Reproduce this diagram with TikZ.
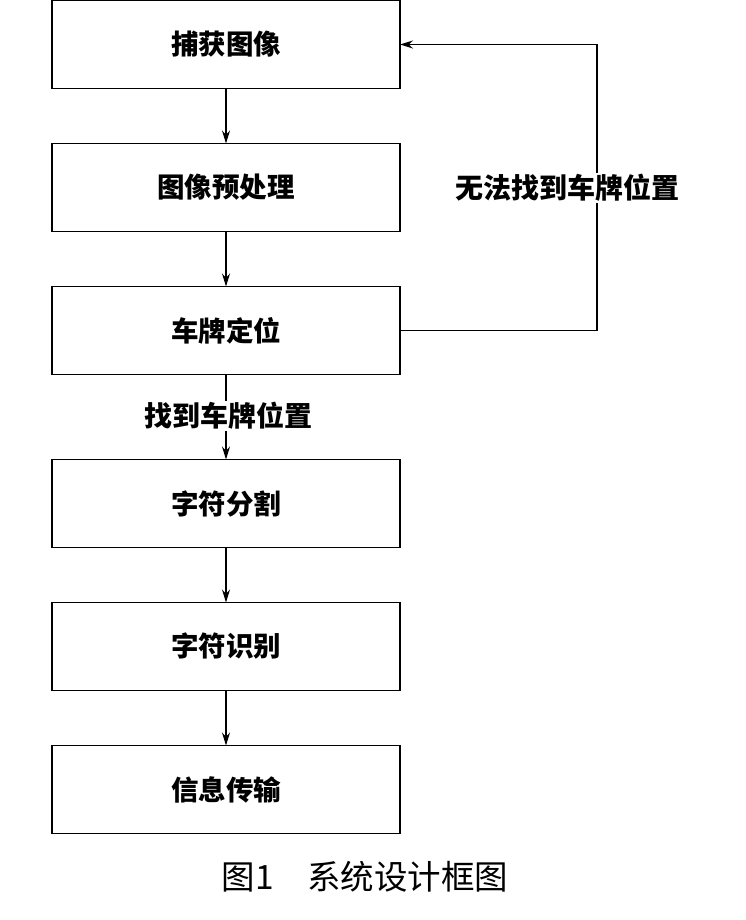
\documentclass[tikz,border=0pt]{standalone}
\usepackage{fontspec}
\setmainfont{Noto Sans CJK SC}
\usetikzlibrary{positioning,arrows.meta}
\tikzset{
  stage/.style={draw, line width=1.3pt, outer sep=0pt, minimum width=348pt, minimum height=88pt,
    font=\fontsize{27.5}{32}\selectfont\bfseries},
  flow/.style={line width=1.3pt, -{Stealth[length=13pt,width=8pt]}},
  tag/.style={fill=white, inner sep=1pt, font=\fontsize{28}{32}\selectfont\bfseries}
}
\begin{document}
\begin{tikzpicture}[x=1pt, y=-1pt, node distance=55pt]
  \useasboundingbox (0,0) rectangle (745,920);
  \node[stage] (capture) at (226,44.5) {捕获图像};
  \node[stage, below=of capture] (prep) {图像预处理};
  \node[stage, below=of prep] (locate) {车牌定位};
  \node[stage, below=85pt of locate] (split) {字符分割};
  \node[stage, below=of split] (recog) {字符识别};
  \node[stage, below=of recog] (send) {信息传输};
  \coordinate (back) at (597,0);
  \draw[flow] (capture) -- (prep);
  \draw[flow] (prep) -- (locate);
  \draw[flow] (locate) -- (split);
  \node[tag] (found) at (228,416) {找到车牌位置};
  \draw[flow] (split) -- (recog);
  \draw[flow] (recog) -- (send);
  \draw[flow] (locate.east) -| (back |- locate.east) |- (capture.east);
  \node[tag] (lost) at (567,188) {无法找到车牌位置};
  \node[font=\fontsize{33.5}{38}\selectfont] (title) at (365,877) {图1\quad 系统设计框图};
\end{tikzpicture}
\end{document}
